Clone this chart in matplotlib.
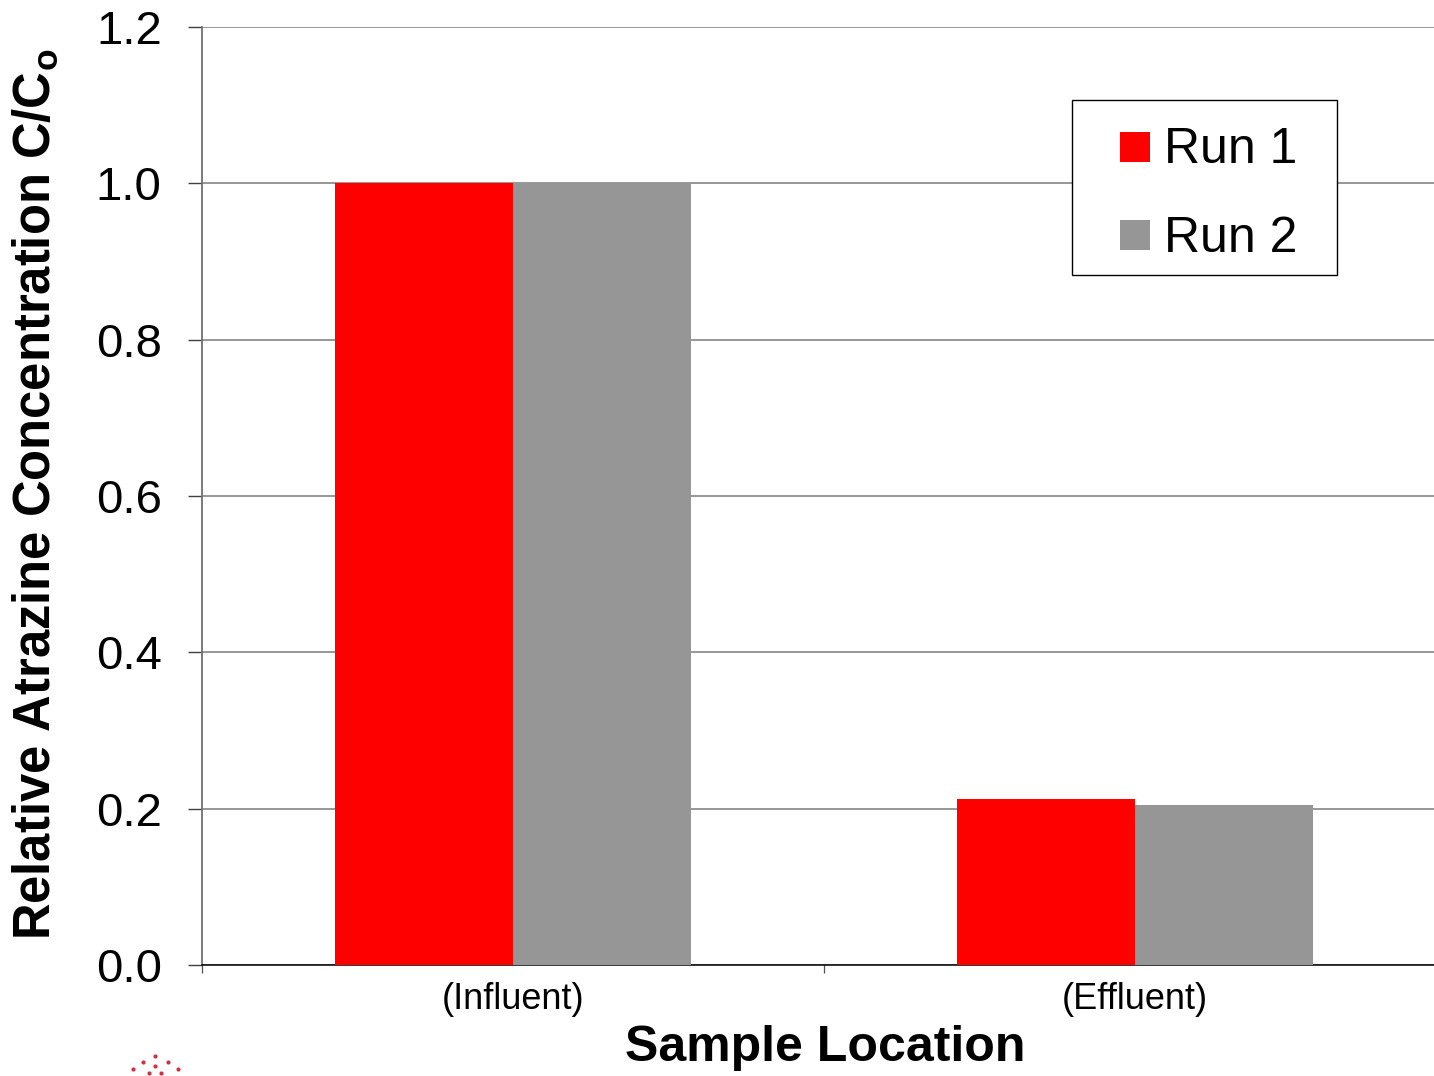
import matplotlib
matplotlib.use("Agg")
import matplotlib.pyplot as plt
from matplotlib.lines import Line2D
from matplotlib.patches import Rectangle
import numpy as np

# Data
locations = ["(Influent)", "(Effluent)"]
run1 = [1.0, 0.213]
run2 = [1.0, 0.205]
series_names = ["Run 1", "Run 2"]
series_colors = ["#FF0000", "#969696"]
yticks = [0.0, 0.2, 0.4, 0.6, 0.8, 1.0, 1.2]

plt.rcParams["font.family"] = ["Liberation Sans", "DejaVu Sans"]
plt.rcParams["mathtext.fontset"] = "custom"
plt.rcParams["mathtext.bf"] = "Liberation Sans:bold"
plt.rcParams["mathtext.rm"] = "Liberation Sans"

W, H = 1434, 1076
fig = plt.figure(figsize=(W / 100, H / 100), dpi=100)
left, right, top, bottom = 202, 1446, 27, 965
ax = fig.add_axes([left / W, 1 - bottom / H, (right - left) / W, (bottom - top) / H])

x = np.arange(len(locations)) + 0.5
bw = 0.286
ax.bar(x - bw / 2, run1, width=bw, color=series_colors[0], label=series_names[0], zorder=3)
ax.bar(x + bw / 2, run2, width=bw, color=series_colors[1], label=series_names[1], zorder=3)

ax.set_xlim(0, len(locations))
ax.set_ylim(0, 1.2)

# y axis
ax.set_yticks(yticks)
ax.set_yticklabels([f"{v:.1f}" for v in yticks], fontsize=34)
ax.tick_params(axis="y", direction="out", length=10, width=1.0, color="#404040", pad=19)
ax.yaxis.grid(True, color="#7a7a7a", linewidth=1.1, zorder=1)
ax.set_axisbelow(True)

# x axis: boundary ticks, centred category labels
ax.set_xticks(np.arange(len(locations) + 1))
ax.set_xticklabels([])
ax.tick_params(axis="x", which="major", direction="out", length=6, width=0.9, color="#505050")
ax.set_xticks(x, minor=True)
ax.set_xticklabels(locations, minor=True, fontsize=26)
ax.tick_params(axis="x", which="minor", length=0, pad=12)

for s in ["top", "right"]:
    ax.spines[s].set_visible(False)
ax.spines["left"].set_color("#707070")
ax.spines["left"].set_linewidth(1.3)
ax.spines["bottom"].set_color("#000000")
ax.spines["bottom"].set_linewidth(1.1)

fig.text(825 / W, 1 - 1048 / H, "Sample Location", fontsize=36, fontweight="bold",
         ha="center", va="center")
fig.text(36 / W, 1 - 494 / H, r"Relative Atrazine Concentration C/C$_\mathbf{o}$",
         fontsize=36.5, fontweight="bold", rotation=90, ha="center", va="center")

# legend box with square colour keys
def fx(px):
    return px / W

def fy(py):
    return 1 - py / H

fig.add_artist(Rectangle((fx(1072), fy(275)), fx(1337) - fx(1072), fy(100) - fy(275),
                         transform=fig.transFigure, facecolor="white",
                         edgecolor="black", linewidth=1.0, zorder=5))
key_tops = [132, 220]
baselines = [163, 252]
for name, color, kt, bl in zip(series_names, series_colors, key_tops, baselines):
    fig.add_artist(Rectangle((fx(1120), fy(kt + 30)), fx(1150) - fx(1120), fy(kt) - fy(kt + 30),
                             transform=fig.transFigure, facecolor=color,
                             edgecolor="none", zorder=6))
    fig.text(fx(1164), fy(bl), name, fontsize=36, ha="left", va="baseline", zorder=6)

# partially visible logo dots at lower left
dots_x = [155, 143, 168, 133, 178, 149, 161, 155]
dots_y = [1056, 1062, 1062, 1069, 1069, 1073, 1073, 1066]
fig.add_artist(Line2D([fx(d) for d in dots_x], [fy(d) for d in dots_y],
                      transform=fig.transFigure, linestyle="none", marker="o",
                      markersize=3, markerfacecolor="#d03040", markeredgecolor="none"))

fig.savefig("out.png", dpi=100)
